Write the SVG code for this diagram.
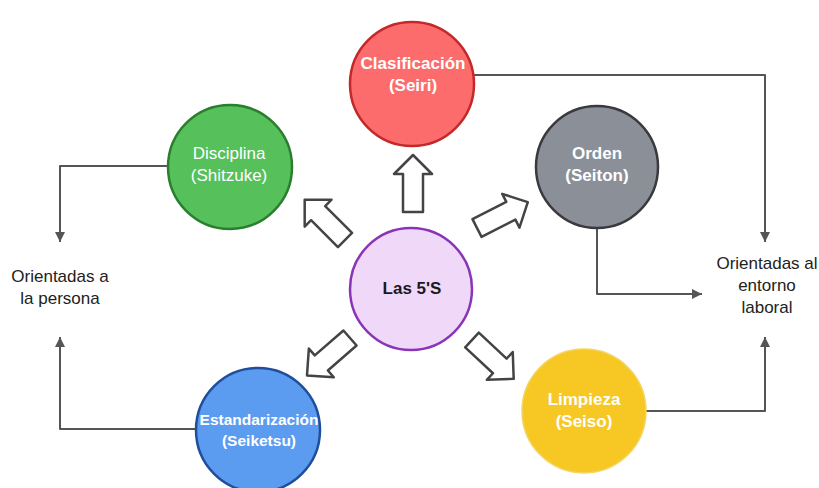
<svg xmlns="http://www.w3.org/2000/svg" width="819" height="488" viewBox="0 0 819 488">
<style>
.lbl{font-family:"Liberation Sans",Arial,sans-serif;font-size:17px;text-anchor:middle;fill:#ffffff}
.b{font-weight:bold}
.side{font-family:"Liberation Sans",Arial,sans-serif;font-size:17px;text-anchor:middle;fill:#222}
.conn{fill:none;stroke:#555;stroke-width:2;stroke-linejoin:round}
.blk{fill:#fff;stroke:#444;stroke-width:2.5;stroke-linejoin:round}
</style>
<defs>
<marker id="ah" viewBox="0 0 10 10" refX="10" refY="5" markerWidth="10" markerHeight="10" markerUnits="userSpaceOnUse" orient="auto">
<path d="M0,0 L10,5 L0,10 Z" fill="#555"/>
</marker>
<path id="blockArrow" d="M0,-10 L38,-10 L38,-19 L57,0 L38,19 L38,10 L0,10 Z"/>
</defs>
<rect width="819" height="488" fill="#fff"/>
<g id="connectors">
<path class="conn" d="M474,75 H765 V242" marker-end="url(#ah)"/>
<path class="conn" d="M597,229 V294 H702" marker-end="url(#ah)"/>
<path class="conn" d="M646,411 H765 V337" marker-end="url(#ah)"/>
<path class="conn" d="M167,166 H60 V242" marker-end="url(#ah)"/>
<path class="conn" d="M196,429 H60 V337" marker-end="url(#ah)"/>
</g>
<g id="block-arrows">
<use href="#blockArrow" class="blk" transform="translate(413,212) rotate(-90)"/>
<use href="#blockArrow" class="blk" transform="translate(345,240) rotate(-135)"/>
<use href="#blockArrow" class="blk" transform="translate(477,228) rotate(-27)"/>
<use href="#blockArrow" class="blk" transform="translate(350,338) rotate(139)"/>
<use href="#blockArrow" class="blk" transform="translate(472,340) rotate(43)"/>
</g>
<g id="center">
<circle cx="411" cy="289" r="61" fill="#f0d8f8" stroke="#8a35b8" stroke-width="2.5"/>
<text class="lbl b" x="412" y="294" style="fill:#1a1a1a">Las 5'S</text>
</g>
<g id="clasificacion">
<circle cx="412" cy="84" r="62" fill="#fd6c6c" stroke="#c42828" stroke-width="2.5"/>
<text class="lbl b" x="413" y="69">Clasificación</text>
<text class="lbl b" x="413" y="91">(Seiri)</text>
</g>
<g id="disciplina">
<circle cx="230" cy="167" r="62" fill="#56c05a" stroke="#2a7f2e" stroke-width="2.5"/>
<text class="lbl" x="229" y="159">Disciplina</text>
<text class="lbl" x="229" y="181">(Shitzuke)</text>
</g>
<g id="orden">
<circle cx="597" cy="167" r="61" fill="#8b8f98" stroke="#3a3a3e" stroke-width="2.5"/>
<text class="lbl b" x="597" y="159">Orden</text>
<text class="lbl b" x="597" y="181">(Seiton)</text>
</g>
<g id="estandarizacion">
<circle cx="258" cy="430" r="62" fill="#5b9cf0" stroke="#1f4e9c" stroke-width="2.5"/>
<text class="lbl b" x="259" y="425" style="font-size:15.5px">Estandarización</text>
<text class="lbl b" x="259" y="446" style="font-size:15.5px">(Seiketsu)</text>
</g>
<g id="limpieza">
<circle cx="584" cy="411" r="62" fill="#f7c824" stroke="#f3d565" stroke-width="1.5"/>
<text class="lbl b" x="584" y="405">Limpieza</text>
<text class="lbl b" x="584" y="427">(Seiso)</text>
</g>
<g id="persona">
<text class="side" x="60" y="282">Orientadas a</text>
<text class="side" x="60" y="304">la persona</text>
</g>
<g id="entorno">
<text class="side" x="767" y="269">Orientadas al</text>
<text class="side" x="767" y="291">entorno</text>
<text class="side" x="767" y="313">laboral</text>
</g>
</svg>
